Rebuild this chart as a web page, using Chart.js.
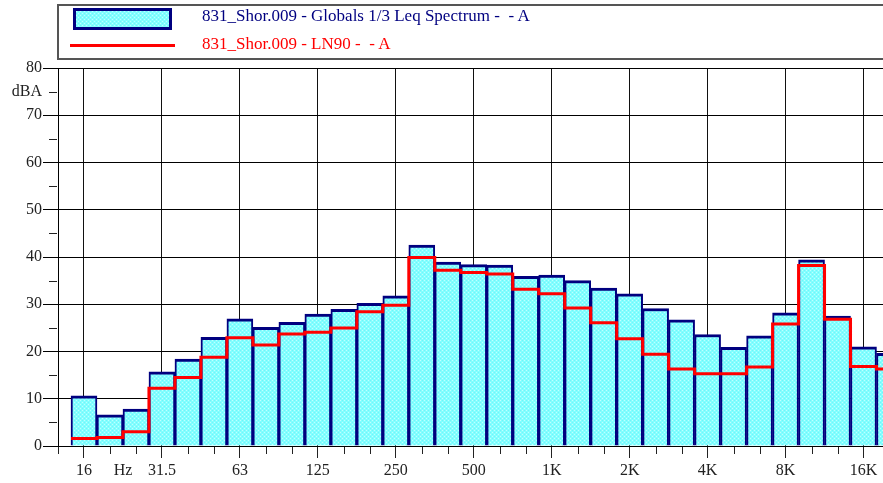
<!DOCTYPE html>
<html>
<head>
<meta charset="utf-8">
<script src="https://cdn.jsdelivr.net/npm/chart.js@4/dist/chart.umd.min.js"></script>
<style>
  html, body { margin: 0; padding: 0; background: #fff; }
  #wrap { position: relative; width: 883px; height: 483px; overflow: hidden; }
  #chart { position: absolute; left: 0; top: 0; }
  #legendBox { position: absolute; left: 57px; top: 4px; width: 900px; height: 52px; border: 2px solid #555; }
  #patch { position: absolute; left: 73px; top: 8px; width: 99px; height: 22px; box-sizing: border-box; border: 3px solid #000080; }
  #redLine { position: absolute; left: 70px; top: 44px; width: 105px; height: 3px; background: #ff0000; }
  .legText { position: absolute; left: 202px; font: 17px "Liberation Serif", serif; line-height: 20px; white-space: pre; }
</style>
</head>
<body>
<div id="wrap">
  <canvas id="chart" width="883" height="483"></canvas>
  <div id="legendBox"></div>
  <div id="patch"></div>
  <div class="legText" style="top:6px;color:#000080">831_Shor.009 - Globals 1/3 Leq Spectrum -  - A</div>
  <div id="redLine"></div>
  <div class="legText" style="top:34px;color:#ff0000">831_Shor.009 - LN90 -  - A</div>
</div>
<script>
// 1/3 octave bands (12.5 Hz band is only half visible and has no reading)
const bands = ['12.5', '16', '20', '25', '31.5', '40', '50', '63', '80', '100', '125', '160', '200',
  '250', '315', '400', '500', '630', '800', '1K', '1.25K', '1.6K', '2K', '2.5K', '3.15K', '4K',
  '5K', '6.3K', '8K', '10K', '12.5K', '16K', '20K'];

// Leq spectrum, dBA
const leqValues = [null, 10.6, 6.6, 7.8, 15.7, 18.4, 23.0, 26.9, 25.1, 26.2, 27.9, 28.9, 30.2,
  31.8, 42.5, 38.9, 38.4, 38.3, 35.9, 36.2, 35.0, 33.4, 32.2, 29.1, 26.7, 23.6,
  20.9, 23.3, 28.2, 39.4, 27.5, 21.0, 19.6];

// LN90, dBA
const ln90Values = [null, 1.6, 1.8, 3.0, 12.2, 14.5, 18.8, 22.9, 21.4, 23.7, 24.1, 25.0, 28.4,
  29.8, 39.9, 37.2, 36.7, 36.4, 33.2, 32.2, 29.2, 26.1, 22.7, 19.4, 16.3, 15.3,
  15.3, 16.7, 25.8, 38.2, 26.8, 16.8, 16.3];

// tick labels under the axis (octave centres only)
const xTickLabels = ['', '16', '', '', '31.5', '', '', '63', '', '', '125', '', '', '250', '', '',
  '500', '', '', '1K', '', '', '2K', '', '', '4K', '', '', '8K', '', '', '16K', ''];
const unitLabel = 'Hz';
const unitPos = 2.5;

const isOctave = i => i >= 1 && (i - 1) % 3 === 0;

// dotted cyan fill
const pc = document.createElement('canvas');
pc.width = 4; pc.height = 4;
const g = pc.getContext('2d');
g.fillStyle = '#82ffff'; g.fillRect(0, 0, 4, 4);
g.fillStyle = '#c0ffff'; g.fillRect(0, 0, 1, 1); g.fillRect(2, 2, 1, 1);
g.fillStyle = '#72f2fa'; g.fillRect(2, 0, 1, 1); g.fillRect(0, 2, 1, 1);
document.getElementById('patch').style.background = 'url(' + pc.toDataURL() + ')';

const canvas = document.getElementById('chart');
const fillPattern = canvas.getContext('2d').createPattern(pc, 'repeat');

const barData = leqValues.map((v, i) => ({ x: i, y: v })).filter(p => p.y !== null);
const lineData = [];
ln90Values.forEach((v, i) => {
  if (v === null) return;
  lineData.push({ x: i - 0.5, y: v }, { x: i + 0.5, y: v });
});

// short minor ticks on both axes
const minorTicks = {
  id: 'minorTicks',
  afterDraw(chart) {
    const { ctx, chartArea, scales: { x, y } } = chart;
    ctx.save();
    ctx.strokeStyle = '#222';
    ctx.lineWidth = 1;
    for (let v = 5; v < 80; v += 10) {
      const py = Math.round(y.getPixelForValue(v)) + 0.5;
      ctx.beginPath();
      ctx.moveTo(chartArea.left - 9, py);
      ctx.lineTo(chartArea.left - 1, py);
      ctx.stroke();
    }
    for (let i = 0; i < bands.length; i++) {
      if (isOctave(i)) continue;
      const px = Math.round(x.getPixelForValue(i)) + 0.5;
      if (px > chartArea.right) continue;
      ctx.beginPath();
      ctx.moveTo(px, chartArea.bottom + 1);
      ctx.lineTo(px, chartArea.bottom + 8);
      ctx.stroke();
    }
    ctx.restore();
  }
};

Chart.defaults.font.family = '"Liberation Serif", serif';
Chart.defaults.font.size = 16;
Chart.defaults.color = '#222';

new Chart(canvas, {
  type: 'bar',
  data: {
    datasets: [{
      type: 'line',
      label: 'LN90',
      data: lineData,
      borderColor: '#ff0000',
      borderWidth: 3,
      pointRadius: 0,
      tension: 0,
      order: 1
    }, {
      label: 'Leq',
      data: barData,
      backgroundColor: fillPattern,
      borderColor: '#00007f',
      borderWidth: { top: 3, left: 2, right: 2, bottom: 0 },
      borderSkipped: 'start',
      barPercentage: 1,
      categoryPercentage: 1,
      order: 2
    }]
  },
  options: {
    responsive: false,
    animation: false,
    devicePixelRatio: 1,
    layout: { padding: { top: 68, left: 0, right: 0, bottom: 0 } },
    plugins: { legend: { display: false }, tooltip: { enabled: false } },
    scales: {
      x: {
        type: 'linear',
        offset: false,
        min: 0,
        max: 31.75,
        afterBuildTicks: s => {
          const t = bands.map((b, i) => ({ value: i }));
          t.push({ value: unitPos });
          s.ticks = t;
        },
        afterFit: s => { s.height = 37; },
        grid: {
          offset: false,
          color: c => (c.tick && isOctave(c.tick.value) ? '#111' : 'rgba(0,0,0,0)'),
          tickColor: c => (c.tick && isOctave(c.tick.value) ? '#222' : 'rgba(0,0,0,0)'),
          tickLength: 12
        },
        border: { color: '#000' },
        ticks: {
          padding: 3,
          maxRotation: 0,
          autoSkip: false,
          callback: v => (v === unitPos ? unitLabel : (xTickLabels[v] || ''))
        }
      },
      y: {
        min: 0,
        max: 80,
        afterFit: s => { s.width = 58; },
        grid: {
          color: c => (c.tick && c.tick.value % 10 === 0 ? '#000' : 'rgba(0,0,0,0)'),
          tickColor: c => (c.tick && c.tick.value % 10 === 0 ? '#000' : 'rgba(0,0,0,0)'),
          tickLength: 15
        },
        border: { color: '#000' },
        ticks: {
          stepSize: 5,
          padding: 1,
          callback: v => (v % 10 === 0 ? String(v) : (v === 75 ? 'dBA' : ''))
        }
      }
    }
  },
  plugins: [minorTicks]
});
</script>
</body>
</html>
